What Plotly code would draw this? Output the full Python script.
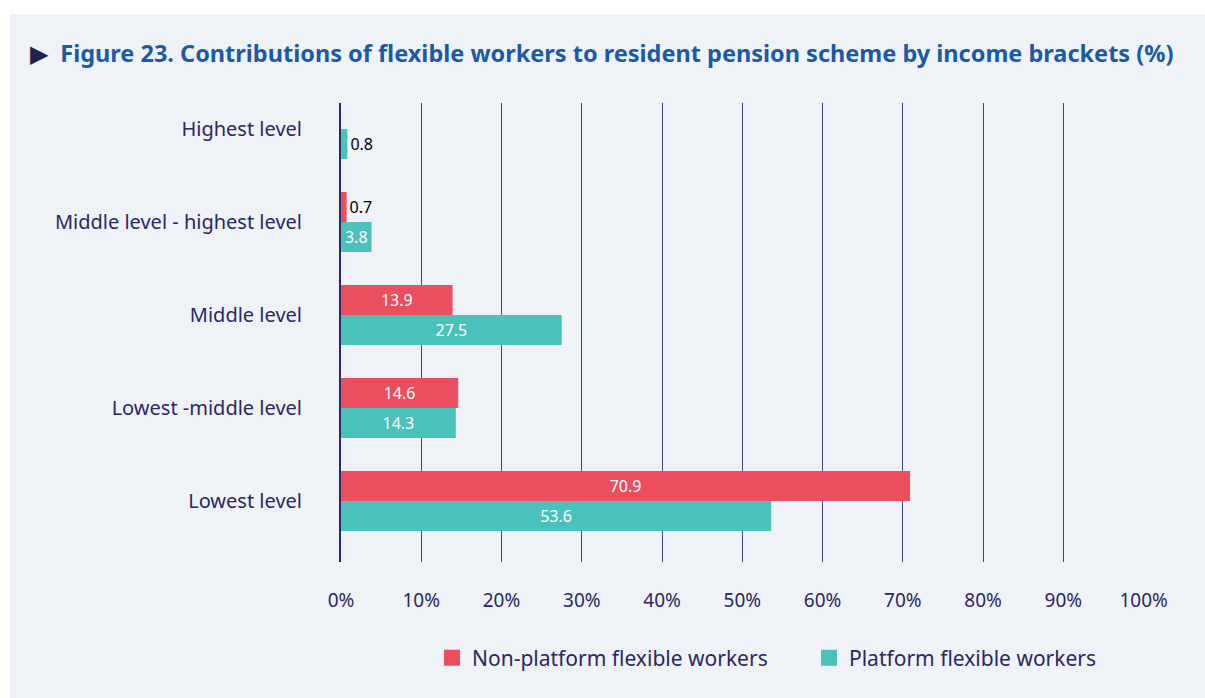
import plotly.graph_objects as go

categories = ["Lowest level", "Lowest -middle level", "Middle level",
              "Middle level - highest level", "Highest level"]
non_platform = [70.9, 14.6, 13.9, 0.7, None]
platform = [53.6, 14.3, 27.5, 3.8, 0.8]
tick_vals = [0, 10, 20, 30, 40, 50, 60, 70, 80, 90, 100]
tick_text = ["0%", "10%", "20%", "30%", "40%", "50%", "60%", "70%", "80%", "90%", "100%"]
series_names = ["Non-platform flexible workers", "Platform flexible workers"]

RED = "#ea4e5f"
TEAL = "#4bc1bc"
NAVY = "#2b2862"
FONT = "Noto Sans"

def fmt(v):
    return "" if v is None else f"{v:.1f}"

def positions(vals, limit=3.0):
    return ["outside" if (v is not None and v < limit) else "inside" for v in vals]

fig = go.Figure()
for vals, color in [(platform, TEAL), (non_platform, RED)]:
    fig.add_trace(go.Bar(
        y=categories, x=vals, orientation="h", showlegend=False,
        marker=dict(color=color, line=dict(width=0)),
        text=[fmt(v) for v in vals], textposition=positions(vals),
        insidetextanchor="middle", constraintext="none", cliponaxis=False,
        insidetextfont=dict(color="white", size=16, family=FONT),
        outsidetextfont=dict(color="black", size=16, family=FONT),
        hoverinfo="x+y",
    ))

# legend entries (one legend per entry so each can be placed like the reference)
for name, color, leg in [(series_names[0], RED, "legend"), (series_names[1], TEAL, "legend2")]:
    fig.add_trace(go.Scatter(
        x=[None], y=[None], mode="markers", name=name, legend=leg,
        marker=dict(symbol="square", size=16, color=color),
        showlegend=True,
    ))

W, H = 1205, 698
L, R, T, B = 341, 61, 103, 136
pw, ph = W - L - R, H - T - B

def px_x(p):
    return (p - L) / pw

def px_y(p):
    return 1 - (p - T) / ph

leg_common = dict(orientation="h", xanchor="left", yanchor="middle",
                  font=dict(size=21, color=NAVY, family=FONT),
                  bgcolor="rgba(0,0,0,0)", itemsizing="trace")

fig.update_layout(
    width=W, height=H,
    margin=dict(l=L, r=R, t=T, b=B, pad=0),
    paper_bgcolor="white",
    plot_bgcolor="rgba(0,0,0,0)",
    barmode="group", bargap=0.355, bargroupgap=0,
    font=dict(family=FONT, color=NAVY, size=19),
    showlegend=True,
    legend=dict(x=px_x(432), y=px_y(658), **leg_common),
    legend2=dict(x=px_x(809), y=px_y(658), **leg_common),
    xaxis=dict(range=[0, 100.05], tickvals=tick_vals, ticktext=tick_text,
               showgrid=True, gridcolor="#45427a", gridwidth=1.3,
               zeroline=False, showline=False, ticks="",
               ticklabelstandoff=25,
               tickfont=dict(size=19, color=NAVY, family=FONT)),
    yaxis=dict(categoryorder="array", categoryarray=categories,
               range=[-0.656, 4.28],
               showline=True, linecolor=NAVY, linewidth=2,
               showgrid=False, zeroline=False, ticks="",
               ticklabelstandoff=33,
               tickfont=dict(size=20, color=NAVY, family=FONT)),
    title=dict(
        text=("<span style='color:#221f52'>▶</span>&nbsp; "
              "<b>Figure 23. Contributions of flexible workers to resident pension "
              "scheme by income brackets (%)</b>"),
        x=30 / W, xanchor="left", xref="container",
        y=1 - 54 / H, yanchor="middle", yref="container",
        font=dict(family=FONT, size=23.5, color="#1a5aa6"),
    ),
    shapes=[dict(type="rect", xref="paper", yref="paper", layer="below",
                 x0=px_x(10), x1=1.3, y0=-0.5, y1=px_y(14),
                 fillcolor="#eff2f6", line=dict(width=0))],
)

fig.write_html("out.html",
               config={"displayModeBar": False},
               post_script="document.body.style.margin='0';document.body.style.overflow='hidden';")
